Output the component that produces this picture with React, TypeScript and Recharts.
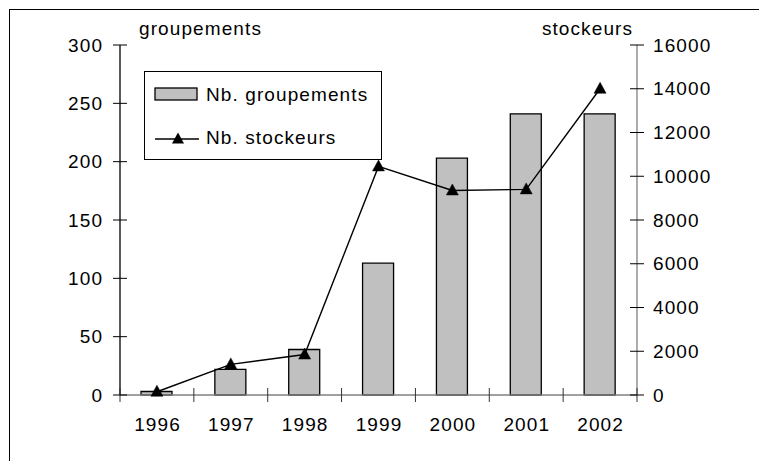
import React from 'react';
import { ComposedChart, Bar, Line, XAxis, YAxis, Legend } from 'recharts';

const years = ['1996', '1997', '1998', '1999', '2000', '2001', '2002'];
const groupements = [3, 22, 39, 113, 203, 241, 241];
const stockeurs = [150, 1400, 1850, 10450, 9350, 9400, 14000];
const leftTicks = [0, 50, 100, 150, 200, 250, 300];
const rightTicks = [0, 2000, 4000, 6000, 8000, 10000, 12000, 14000, 16000];
const leftTitle = 'groupements';
const rightTitle = 'stockeurs';
const barName = 'Nb. groupements';
const lineName = 'Nb. stockeurs';

const data = years.map((y, i) => ({ year: y, groupements: groupements[i], stockeurs: stockeurs[i] }));

const W = 759;
const H = 461;
const margin = { top: 45, right: 62, bottom: 36, left: 60 };
const AXIS_W = 60;
const X_AXIS_H = 30;
const plotW = W - margin.left - margin.right - 2 * AXIS_W;
const bandW = plotW / years.length;

const FONT = '"Liberation Sans", Arial, Helvetica, sans-serif';
const FS = 19;
const LS = 1.1;
const BAR_FILL = '#c0c0c0';
const GRAY = '#808080';

const textStyle = { fontFamily: FONT, fontSize: FS, letterSpacing: LS, fill: '#000' };

const X_MARGIN = 23;
const XTick = (props: any) => {
  const { x, y, payload, index } = props;
  const axisY = y - X_MARGIN;
  const left = x - bandW / 2;
  return (
    <g>
      <line x1={left} x2={left} y1={axisY - 7} y2={axisY + 7} stroke="#333" strokeWidth={1} />
      {index === years.length - 1 && (
        <line x1={x + bandW / 2} x2={x + bandW / 2} y1={axisY - 7} y2={axisY + 7} stroke="#333" strokeWidth={1} />
      )}
      <text x={x + LS / 2} y={y} dy="0.68em" textAnchor="middle" style={textStyle}>
        {payload.value}
      </text>
    </g>
  );
};

const L_MARGIN = 18;
const LeftTick = (props: any) => {
  const { x, y, payload } = props;
  const ax = x + L_MARGIN;
  return (
    <g>
      <line x1={ax - 7} x2={ax + 7} y1={y} y2={y} stroke="#000" strokeWidth={1} />
      <text x={x + LS} y={y} dy="0.355em" textAnchor="end" style={textStyle}>
        {payload.value}
      </text>
    </g>
  );
};

const R_MARGIN = 16;
const RightTick = (props: any) => {
  const { x, y, payload } = props;
  const ax = x - R_MARGIN;
  return (
    <g>
      <line x1={ax - 7} x2={ax + 7} y1={y} y2={y} stroke="#000" strokeWidth={1} />
      <text x={x} y={y} dy="0.355em" textAnchor="start" style={textStyle}>
        {payload.value}
      </text>
    </g>
  );
};

const LeftTitle = (props: any) => {
  const vb = props.viewBox || { x: margin.left, y: margin.top, width: AXIS_W, height: 0 };
  return (
    <text x={vb.x + vb.width + 19} y={vb.y - 10} textAnchor="start" style={textStyle}>
      {leftTitle}
    </text>
  );
};

const RightTitle = (props: any) => {
  const vb = props.viewBox || { x: W - margin.right - AXIS_W, y: margin.top, width: AXIS_W, height: 0 };
  return (
    <text x={vb.x - 5 + LS} y={vb.y - 10} textAnchor="end" style={textStyle}>
      {rightTitle}
    </text>
  );
};

const Triangle = (props: any) => {
  const { cx, cy, index } = props;
  if (cx == null || cy == null) return <g key={`t-${index}`} />;
  return (
    <path
      key={`t-${index}`}
      d={`M${cx},${cy - 6.5} L${cx + 6},${cy + 4.5} L${cx - 6},${cy + 4.5} Z`}
      fill="#000"
      stroke="#000"
      strokeWidth={0.5}
    />
  );
};

const LegendBox = () => (
  <div
    style={{
      width: 238,
      height: 89,
      border: '1px solid #000',
      boxSizing: 'border-box',
      background: '#fff',
    }}
  >
    <svg width={236} height={87} style={{ display: 'block' }}>
      <rect x={10} y={16} width={42} height={12} fill={BAR_FILL} stroke="#000" strokeWidth={1.3} />
      <text x={61} y={29} style={textStyle}>{barName}</text>
      <line x1={10} x2={54} y1={67} y2={67} stroke="#000" strokeWidth={1.3} />
      <path d="M33,60.5 L39,71.5 L27,71.5 Z" fill="#000" />
      <text x={61} y={72} style={textStyle}>{lineName}</text>
    </svg>
  </div>
);

export default function App() {
  return (
    <div style={{ position: 'absolute', left: 0, top: 0, width: W, height: H, overflow: 'hidden', background: '#fff' }}>
      <div
        style={{
          position: 'absolute',
          left: 9,
          top: 9,
          width: W + 20,
          height: H + 20,
          borderLeft: '1px solid #000',
          borderTop: '1px solid #000',
        }}
      />
      <div style={{ position: 'absolute', left: 0, top: 0 }}>
        <ComposedChart width={W} height={H} data={data} margin={margin} barCategoryGap="29%">
          <XAxis
            dataKey="year"
            height={X_AXIS_H}
            stroke={GRAY}
            axisLine={{ stroke: GRAY, strokeWidth: 1.3 }}
            tickLine={false}
            tickSize={0}
            tickMargin={X_MARGIN}
            tick={<XTick />}
            interval={0}
          />
          <YAxis
            yAxisId="left"
            orientation="left"
            width={AXIS_W}
            domain={[0, 300]}
            ticks={leftTicks}
            interval={0}
            axisLine={{ stroke: '#000', strokeWidth: 1.3 }}
            tickLine={false}
            tickSize={0}
            tickMargin={L_MARGIN}
            tick={<LeftTick />}
            label={<LeftTitle />}
          />
          <YAxis
            yAxisId="right"
            orientation="right"
            width={AXIS_W}
            domain={[0, 16000]}
            ticks={rightTicks}
            interval={0}
            axisLine={{ stroke: GRAY, strokeWidth: 1.3 }}
            tickLine={false}
            tickSize={0}
            tickMargin={R_MARGIN}
            tick={<RightTick />}
            label={<RightTitle />}
          />
          <Legend
            layout="horizontal"
            verticalAlign="middle"
            align="center"
            wrapperStyle={{ left: 144, top: 71, width: 238, height: 89 }}
            content={() => <LegendBox />}
          />
          <Bar
            yAxisId="left"
            dataKey="groupements"
            name={barName}
            fill={BAR_FILL}
            stroke="#000"
            strokeWidth={1.3}
            barSize={31}
            isAnimationActive={false}
          />
          <Line
            yAxisId="right"
            dataKey="stockeurs"
            name={lineName}
            type="linear"
            stroke="#000"
            strokeWidth={1.4}
            dot={(p: any) => <Triangle {...p} />}
            activeDot={false}
            isAnimationActive={false}
          />
        </ComposedChart>
      </div>
    </div>
  );
}
